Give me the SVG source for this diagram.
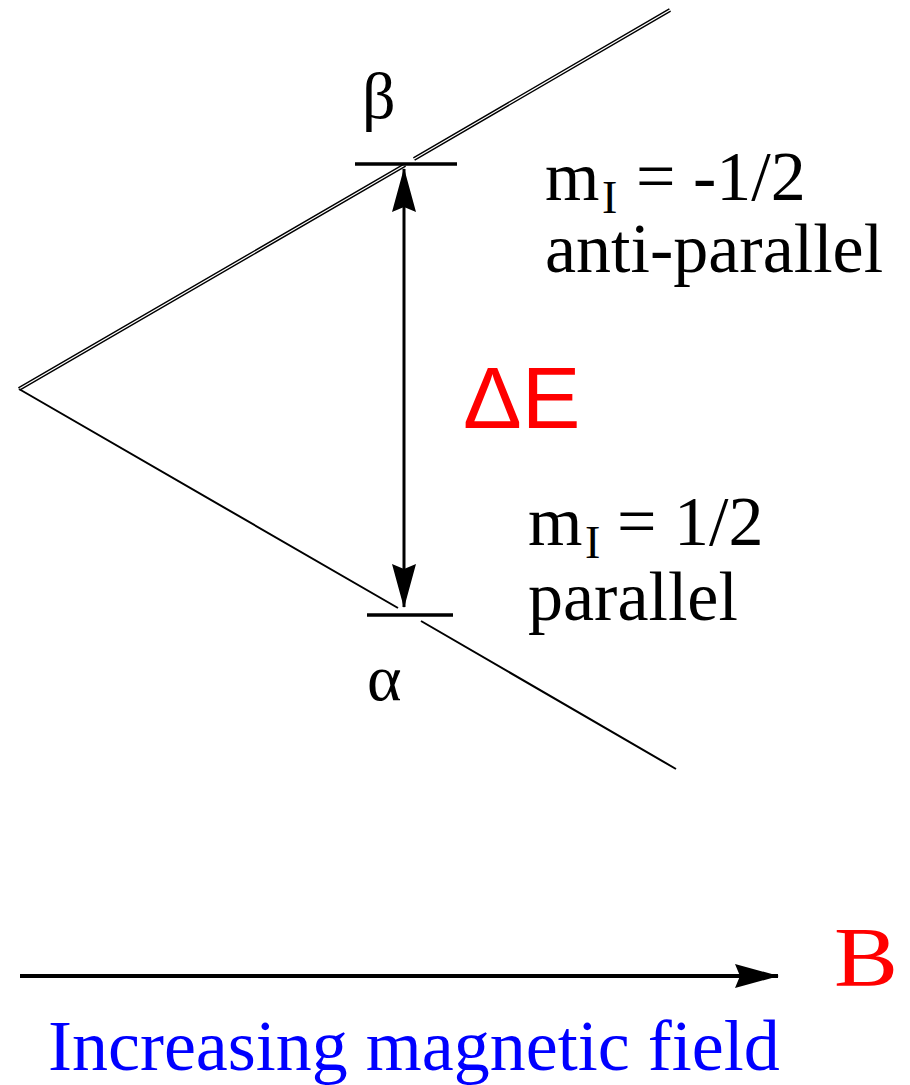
<svg xmlns="http://www.w3.org/2000/svg" width="910" height="1085" viewBox="0 0 910 1085">
<style>
.serif{font-family:"Liberation Serif","Times New Roman",serif;fill:#000}
.big{font-size:70px}
.sub{font-size:46px}
.lvl{stroke:#000;stroke-width:3.5;fill:none}
.thin{stroke:#000;stroke-width:2;fill:none}
</style>
<defs>
<marker id="ah" markerWidth="46" markerHeight="26" refX="43" refY="13" orient="auto-start-reverse" markerUnits="userSpaceOnUse">
<path d="M0,1 L44,13 L0,25 L5,13 Z" fill="#000"/>
</marker>
</defs>
<rect width="910" height="1085" fill="#fff"/>
<g id="connectors">
<g id="upper-line">
<path d="M19,389 L405,165 M414,159 L670,10" stroke="#000" stroke-width="4" fill="none"/>
<path d="M19,389 L405,165 M414,159 L670,10" stroke="#fff" stroke-width="1.2" fill="none"/>
</g>
<path id="lower-line" class="thin" d="M19,389 L398,608 M421,621 L676,769"/>
<line id="delta-arrow" x1="404" y1="169" x2="404" y2="607" stroke="#000" stroke-width="3" marker-start="url(#ah)" marker-end="url(#ah)"/>
<line id="b-arrow" x1="20" y1="976" x2="778" y2="976" stroke="#000" stroke-width="4" marker-end="url(#ah)"/>
</g>
<g id="beta-level">
<line class="lvl" x1="355" y1="164" x2="457" y2="164"/>
<text class="serif" x="362" y="118" font-size="66">β</text>
</g>
<g id="alpha-level">
<line class="lvl" x1="367" y1="615" x2="453" y2="615"/>
<text class="serif" x="367" y="700" font-size="66">α</text>
</g>
<g id="beta-label">
<text class="serif big" x="545" y="200">m</text>
<text class="serif sub" x="602" y="213">I</text>
<text class="serif big" x="636" y="200">= -1/2</text>
<text class="serif big" x="545" y="272">anti-parallel</text>
</g>
<g id="alpha-label">
<text class="serif big" x="528" y="545">m</text>
<text class="serif sub" x="585" y="558">I</text>
<text class="serif big" x="617" y="545">= 1/2</text>
<text class="serif big" x="528" y="620">parallel</text>
</g>
<g id="delta-e">
<text x="463" y="428" font-family="Liberation Sans, Arial, sans-serif" font-size="88" fill="#f00">ΔE</text>
</g>
<g id="b-label">
<text x="834" y="986" font-family="Liberation Serif, Times New Roman, serif" font-size="84" textLength="64" lengthAdjust="spacingAndGlyphs" fill="#f00">B</text>
</g>
<g id="caption">
<text x="48" y="1070" font-family="Liberation Serif, Times New Roman, serif" font-size="72" fill="#00f">Increasing magnetic field</text>
</g>
</svg>
